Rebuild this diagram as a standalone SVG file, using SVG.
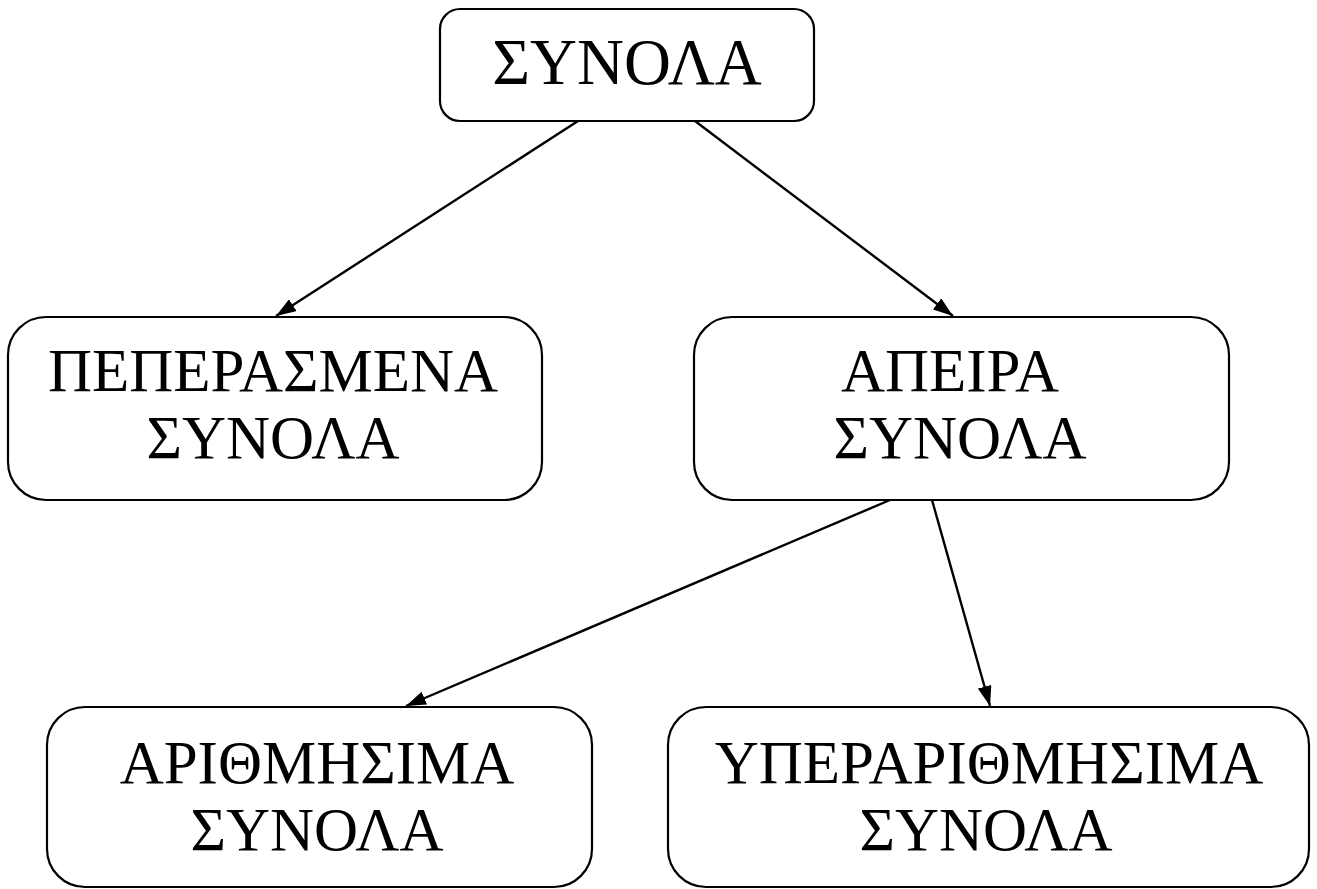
<svg xmlns="http://www.w3.org/2000/svg" width="1317" height="889" viewBox="0 0 1317 889">
<style>
.box{fill:#fff;stroke:#000;stroke-width:2.2}
.t{font-family:"Liberation Serif","Times New Roman",serif;font-size:61px;fill:#000;text-anchor:middle}
.big{font-size:65px}
.c{stroke:#000;stroke-width:2.4;fill:none;marker-end:url(#ah)}
</style>
<defs>
<marker id="ah" viewBox="0 0 20 14" refX="20" refY="7" markerWidth="20" markerHeight="14" markerUnits="userSpaceOnUse" orient="auto">
<path d="M0,0 L20,7 L0,14 z" fill="#000"/>
</marker>
</defs>
<rect width="1317" height="889" fill="#fff"/>
<g id="connectors">
<line class="c" x1="578" y1="121" x2="276" y2="316"/>
<line class="c" x1="695" y1="121" x2="953" y2="316"/>
<line class="c" x1="890" y1="500" x2="406" y2="706"/>
<line class="c" x1="932" y1="500" x2="990" y2="706"/>
</g>
<g id="n-synola">
<rect class="box" x="440" y="9" width="374" height="112" rx="20"/>
<text class="t big" x="627" y="84">ΣΥΝΟΛΑ</text>
</g>
<g id="n-peperasmena">
<rect class="box" x="8" y="317" width="534" height="183" rx="38"/>
<text class="t" x="273" y="391">ΠΕΠΕΡΑΣΜΕΝΑ</text>
<text class="t" x="273" y="458">ΣΥΝΟΛΑ</text>
</g>
<g id="n-apeira">
<rect class="box" x="694" y="317" width="535" height="183" rx="38"/>
<text class="t" x="950" y="391">ΑΠΕΙΡΑ</text>
<text class="t" x="960" y="458">ΣΥΝΟΛΑ</text>
</g>
<g id="n-arithmisima">
<rect class="box" x="47" y="707" width="545" height="180" rx="38"/>
<text class="t" x="317" y="783">ΑΡΙΘΜΗΣΙΜΑ</text>
<text class="t" x="317" y="850">ΣΥΝΟΛΑ</text>
</g>
<g id="n-yperarithmisima">
<rect class="box" x="668" y="707" width="641" height="180" rx="38"/>
<text class="t" x="989" y="783">ΥΠΕΡΑΡΙΘΜΗΣΙΜΑ</text>
<text class="t" x="986" y="850">ΣΥΝΟΛΑ</text>
</g>
</svg>
